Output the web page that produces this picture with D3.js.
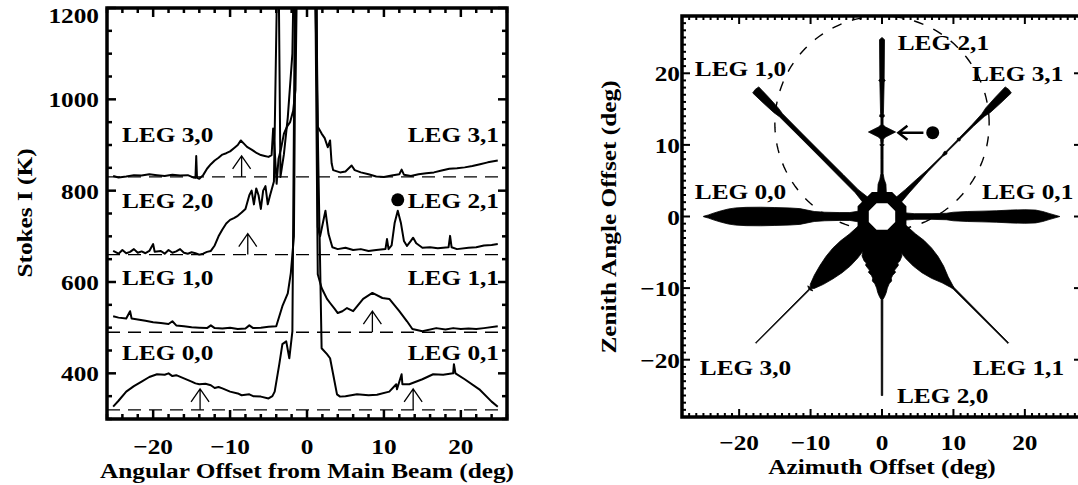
<!DOCTYPE html>
<html>
<head>
<meta charset="utf-8">
<script src="https://cdn.jsdelivr.net/npm/d3@7"></script>
<style>
  body { margin: 0; background: #fff; }
  text { font-family: "Liberation Serif", "Times New Roman", serif; font-weight: bold; fill: #000; }
</style>
</head>
<body>
<svg id="chart" width="1078" height="485"></svg>
<script>
// ---------- Left panel: Stokes I scans through each leg (offset deg, K) ----------
const scanLeg3 = [[-25.2,832],[-24.5,829],[-23.5,831],[-22.5,834],[-21.5,833],[-20.5,836],[-19.5,834],[-18.5,832],[-17.5,835],[-16.5,833],[-15.5,834],[-14.8,829],[-14.5,828],[-14.4,876],[-14.3,828],[-14.0,826],[-13.5,834],[-13,848],[-12.5,858],[-12,866],[-11.5,872],[-11,879],[-10.5,882],[-10,886],[-9.5,893],[-9,900],[-8.6,910],[-8.2,903],[-7.8,896],[-7.2,890],[-6.5,882],[-6,878],[-5.5,876],[-5,874],[-4.6,878],[-4.4,936],[-4.2,890],[-3.95,815],[-3.7,870],[-3.4,890],[-3.0,925],[-2.6,940],[-2.2,950],[-1.8,975],[-1.5,1020],[-1.2,1400],[0,6000],[1.1,1400],[1.4,940],[1.9,925],[2.3,915],[2.7,895],[3.0,910],[3.2,860],[3.4,845],[4.3,840],[5,842],[5.8,855],[6.2,845],[7,840],[8,836],[9,831],[10,830],[11,833],[12,836],[12.3,846],[12.6,835],[13.5,832],[14.5,836],[15.5,838],[16.5,840],[17.5,844],[18.5,848],[19.5,849],[20.5,851],[21.5,854],[22.5,858],[23.5,862],[24.8,866]];
const scanLeg2 = [[-25.2,668],[-24.5,662],[-24,670],[-23.5,663],[-23,666],[-22.5,672],[-22,664],[-21.5,667],[-21,663],[-20.5,668],[-20,683],[-19.8,666],[-19,668],[-18.5,662],[-18,670],[-17.5,664],[-17,667],[-16.5,672],[-16,664],[-15.5,662],[-15,665],[-14.5,663],[-14,660],[-13.5,662],[-13,666],[-12.5,668],[-12,680],[-11.5,700],[-11,715],[-10.5,728],[-10,736],[-9.5,740],[-9,745],[-8.5,752],[-8,760],[-7.5,790],[-7.2,800],[-6.9,770],[-6.6,805],[-6.3,790],[-6.0,760],[-5.7,800],[-5.4,810],[-5.1,770],[-4.8,790],[-4.3,820],[-3.75,1400],[-3.45,830],[-3.0,880],[-2.5,960],[-1.9,1100],[-1.6,1400],[-0.2,6000],[1.2,1400],[1.4,720],[1.7,700],[2.2,740],[2.4,756],[2.6,730],[2.8,705],[3.3,676],[4,672],[5,675],[6,670],[7,672],[8,668],[9,670],[10.2,672],[10.4,694],[10.6,672],[11,680],[11.4,730],[11.8,756],[12.2,730],[12.6,690],[13,679],[13.5,690],[13.8,697],[14.2,685],[15,675],[16,676],[17,674],[18.4,676],[18.6,701],[18.8,676],[19.5,672],[21,675],[22,676],[23,680],[24,681],[24.8,683]];
const scanLeg1 = [[-25.2,525],[-24.5,522],[-23.5,520],[-23,536],[-22.8,520],[-22,518],[-21,515],[-20,512],[-19,510],[-18,508],[-17.5,514],[-17,505],[-16,503],[-15,501],[-14,500],[-13,499],[-12.5,505],[-12,499],[-11,498],[-10,500],[-9,497],[-8,498],[-7.5,505],[-7,499],[-6,500],[-5,502],[-4,503],[-3.6,525],[-3.2,547],[-2.5,575],[-2.1,620],[-1.7,700],[-1.4,1400],[0,6000],[1.0,1400],[1.4,617],[1.9,587],[2.6,563],[3.0,554],[3.6,541],[4.0,532],[4.6,536],[5.2,543],[6.0,536],[7.3,563],[8.5,576],[9.8,565],[10.7,563],[12.0,536],[13.0,514],[13.7,497],[15.0,492],[16.8,499],[18,496],[19,499],[20,497],[21,498],[22,497],[23,499],[24.8,503]];
const scanLeg0 = [[-25.2,327],[-24.5,340],[-23.5,360],[-22.5,372],[-21.5,382],[-20.5,392],[-19.5,398],[-18.5,397],[-18,400],[-17.5,394],[-17,396],[-16,389],[-15,382],[-14.5,378],[-14,376],[-13.2,377],[-12.5,374],[-12,368],[-11.5,370],[-11,367],[-10,360],[-9,356],[-8.5,352],[-7.5,354],[-7,350],[-6,349],[-5,345],[-4.5,350],[-4.2,360],[-3.6,420],[-3.2,464],[-2.7,470],[-2.3,433],[-1.9,492],[-1.5,1400],[0,6000],[0.9,1400],[1.9,455],[2.6,442],[3.0,433],[3.4,398],[3.9,354],[4.3,349],[5,350],[6.5,354],[8,352],[9.1,353],[10.7,360],[11.6,376],[11.7,365],[12.3,398],[12.4,376],[13.3,376],[15,387],[16.4,398],[17.7,397],[19,400],[19.1,420],[19.3,400],[20.5,387],[22.4,365],[24,338],[24.8,327]];
const scanSeries = [scanLeg0, scanLeg1, scanLeg2, scanLeg3];
const scanBaselines = [320, 490, 660, 830];
const scanNamesLeft = ["LEG 0,0", "LEG 1,0", "LEG 2,0", "LEG 3,0"];
const scanNamesRight = ["LEG 0,1", "LEG 1,1", "LEG 2,1", "LEG 3,1"];
// sidelobe markers: offset (deg) and the baseline they rise from (K)
const lobeOffsets = [-13.9, 13.8, 8.5, -7.7, -8.5];
const lobeBases = [320, 320, 490, 660, 830];
const markDot = [11.8, 780];
const leftXTicks = [-20, -10, 0, 10, 20];
const leftYTicks = [400, 600, 800, 1000, 1200];

// ---------- Right panel: leg widths along each spoke (radius deg, half-width deg) ----------
const legAngles = [0, 45, 90, 135, 180, 225, 270, 315];
const legNames = ["LEG 0,1", "LEG 3,1", "LEG 2,1", "LEG 1,0", "LEG 0,0", "LEG 3,0", "LEG 2,0", "LEG 1,1"];
const profLeg01 = [[3.3,0.5],[4.5,0.4],[7,0.4],[9,0.45],[10,0.6],[12,0.7],[14,0.75],[16,0.8],[18,0.9],[20,0.95],[21.5,0.9],[22.5,0.7],[23.5,0.4],[24.9,0]];
const profLeg31 = [[3.3,0.5],[5,0.35],[7,0.25],[9,0.12],[12,0.08],[12.6,0.25],[12.8,0.08],[15,0.1],[15.2,0.25],[15.4,0.12],[18,0.15],[20,0.25],[21,0.45],[23,0.55],[25,0.6],[25.1,0]];
const profLeg21 = [[3.3,0.6],[4.5,0.55],[5.2,0.3],[6,0.15],[8,0.15],[9.8,0.15],[10,0.3],[10.2,0.15],[10.8,0.2],[11.1,0.5],[11.8,1.9],[12.5,0.5],[12.8,0.15],[13.8,0.15],[14,0.35],[14.4,0.2],[18.8,0.3],[19,0.45],[19.2,0.3],[24.7,0.35],[25,0]];
const profLeg10 = [[3.3,0.5],[5,0.3],[8,0.3],[12,0.28],[16,0.28],[20,0.3],[21,0.45],[23,0.55],[25,0.6],[25.1,0]];
const profLeg00 = [[3.3,0.75],[4.5,0.55],[6,0.55],[8,0.6],[9.5,0.7],[10.5,0.9],[11.5,1.1],[13,1.2],[15,1.25],[17,1.3],[19,1.28],[20.5,1.2],[21.5,1.05],[22.5,0.8],[23.5,0.5],[24.3,0.22],[25,0.03]];
const profLeg30 = [[3.3,1.4],[5,1.5],[6.5,1.7],[8,1.75],[9.5,1.6],[11,1.3],[12.5,0.9],[13.8,0.4],[14.1,0.1],[14.2,0.5],[14.4,0.08],[25,0.05]];
const profLeg20 = [[3.3,2.3],[4.5,2.6],[5.5,2.8],[6.2,2.5],[6.5,2.2],[6.8,2.3],[7.2,2.0],[7.5,1.75],[7.8,1.9],[8.2,1.5],[8.6,1.3],[9,1.35],[9.4,1.0],[10,0.75],[10.6,0.6],[11.2,0.35],[11.6,0.12],[25,0.1]];
const profLeg11 = [[3.3,1.5],[5,1.6],[6.5,1.8],[8,1.8],[9.5,1.6],[11,1.2],[12.5,0.6],[13.8,0.2],[14.2,0.12],[25,0.07]];
const legProfiles = [profLeg01, profLeg31, profLeg21, profLeg10, profLeg00, profLeg30, profLeg20, profLeg11];
const hubRadii = [3.7, 2.0];            // outer and inner radius of the central ring (deg)
const refCircle = { az: 0, zen: 13, r: 15 };
const moonMark = [7.1, 11.7];          // filled marker (deg)
const moonArrow = [[5.8, 11.7], [2.3, 11.7]];
const rightTicks = [-20, -10, 0, 10, 20];

// ---------- drawing ----------
const svg = d3.select("#chart");
const SX = 1.15;          // horizontal stretch of the bold serif lettering
const FS = 22;

function label(g, x, y, str, anchor, rot) {
  g.append("text")
    .attr("transform", `translate(${x},${y})` + (rot ? ` rotate(${rot})` : "") + ` scale(${SX},1)`)
    .attr("text-anchor", anchor || "start")
    .style("font-size", FS + "px")
    .text(str);
}
const fmt = d3.format("d");

// ---- left panel ----
const xL = d3.scaleLinear().domain([-26, 26]).range([107, 507]);
const yL = d3.scaleLinear().domain([300, 1200]).range([419, 8]);
const L = svg.append("g");
L.append("clipPath").attr("id", "clipL").append("rect")
  .attr("x", 107).attr("y", 8).attr("width", 400).attr("height", 411);

// baselines
L.selectAll("line.base").data(scanBaselines).join("line")
  .attr("x1", xL(-26)).attr("x2", xL(26))
  .attr("y1", d => yL(d)).attr("y2", d => yL(d))
  .attr("stroke", "#000").attr("stroke-width", 1.3).attr("stroke-dasharray", "13,8");

const lineL = d3.line().x(d => xL(d[0])).y(d => yL(d[1]));
L.append("g").attr("clip-path", "url(#clipL)")
  .selectAll("path").data(scanSeries).join("path")
  .attr("d", lineL).attr("fill", "none").attr("stroke", "#000")
  .attr("stroke-width", 2).attr("stroke-linejoin", "round");

// sidelobe markers
lobeOffsets.forEach((x, i) => {
  const px = xL(x), b = yL(lobeBases[i]), tip = yL(lobeBases[i] + 46);
  L.append("path")
    .attr("d", `M${px},${b}L${px},${tip}M${px - 9},${tip + 13}L${px},${tip}L${px + 9},${tip + 13}`)
    .attr("fill", "none").attr("stroke", "#000").attr("stroke-width", 1.3);
});
L.append("circle").attr("cx", xL(markDot[0])).attr("cy", yL(markDot[1])).attr("r", 6.5).attr("fill", "#000");

// leg names
const leftLabelBase = [360, 285, 208, 142];
scanNamesLeft.forEach((n, i) => label(L, 122, leftLabelBase[i], n, "start"));
scanNamesRight.forEach((n, i) => label(L, 499, leftLabelBase[i], n, "end"));

// axes frame and ticks
function ticksY(g, scale, x0, dir, vals, len) {
  g.selectAll(null).data(vals).join("line")
    .attr("x1", x0).attr("x2", x0 + dir * len)
    .attr("y1", d => scale(d)).attr("y2", d => scale(d))
    .attr("stroke", "#000").attr("stroke-width", 2.5);
}
function ticksX(g, scale, y0, dir, vals, len) {
  g.selectAll(null).data(vals).join("line")
    .attr("y1", y0).attr("y2", y0 + dir * len)
    .attr("x1", d => scale(d)).attr("x2", d => scale(d))
    .attr("stroke", "#000").attr("stroke-width", 2.5);
}
const lMinorX = d3.range(-26, 26.01, 2).filter(v => v % 10 !== 0);
const lMinorY = d3.range(300, 1200.1, 50).filter(v => v % 200 !== 0);
ticksX(L, xL, 419, -1, leftXTicks, 9); ticksX(L, xL, 419, -1, lMinorX, 5);
ticksX(L, xL, 8, 1, leftXTicks, 9);    ticksX(L, xL, 8, 1, lMinorX, 5);
ticksY(L, yL, 107, 1, leftYTicks, 9);  ticksY(L, yL, 107, 1, lMinorY, 5);
ticksY(L, yL, 507, -1, leftYTicks, 9); ticksY(L, yL, 507, -1, lMinorY, 5);
L.append("rect").attr("x", 107).attr("y", 8).attr("width", 400).attr("height", 411)
  .attr("fill", "none").attr("stroke", "#000").attr("stroke-width", 3.5);

leftXTicks.forEach(v => label(L, xL(v), 454, fmt(v), "middle"));
leftYTicks.forEach(v => label(L, 99, Math.max(yL(v) + 8, 23), fmt(v), "end"));
label(L, 307, 478, "Angular Offset from Main Beam (deg)", "middle");
label(L, 32, 213, "Stokes I (K)", "middle", -90);

// ---- right panel ----
const xR = d3.scaleLinear().domain([-28, 28]).range([682, 1082]);
const yR = d3.scaleLinear().domain([-28, 28]).range([417, 16]);
const R = svg.append("g");
R.append("clipPath").attr("id", "clipR").append("rect")
  .attr("x", 682).attr("y", 16).attr("width", 400).attr("height", 401);
const RP = R.append("g").attr("clip-path", "url(#clipR)");

// reference circle
const circPts = d3.range(0, 361, 2).map(a => [refCircle.az + refCircle.r * Math.cos(a * Math.PI / 180),
                                               refCircle.zen + refCircle.r * Math.sin(a * Math.PI / 180)]);
RP.append("path").attr("d", d3.line().x(d => xR(d[0])).y(d => yR(d[1]))(circPts))
  .attr("fill", "none").attr("stroke", "#000").attr("stroke-width", 1.4).attr("stroke-dasharray", "10,11");

// legs
legProfiles.forEach((prof, i) => {
  const a = legAngles[i] * Math.PI / 180;
  const ux = Math.cos(a), uy = Math.sin(a), nx = -uy, ny = ux;
  const side1 = prof.map(([r, w]) => [r * ux + w * nx, r * uy + w * ny]);
  const side2 = prof.map(([r, w]) => [r * ux - w * nx, r * uy - w * ny]).reverse();
  const pts = side1.concat(side2);
  RP.append("path").attr("d", d3.line().x(d => xR(d[0])).y(d => yR(d[1]))(pts) + "Z")
    .attr("fill", "#000").attr("stroke", "#000").attr("stroke-width", 0.8).attr("stroke-linejoin", "round");
});

// central ring (octagon)
const octa = rad => d3.range(8).map(k => {
  const a = (22.5 + 45 * k) * Math.PI / 180;
  return [rad * Math.cos(a), rad * Math.sin(a)];
});
const ringPath = d3.line().x(d => xR(d[0])).y(d => yR(d[1]));
RP.append("path").attr("d", ringPath(octa(hubRadii[0])) + "Z" + ringPath(octa(hubRadii[1])) + "Z")
  .attr("fill", "#000").attr("fill-rule", "evenodd");

// marker and arrow
RP.append("circle").attr("cx", xR(moonMark[0])).attr("cy", yR(moonMark[1])).attr("r", 6.5).attr("fill", "#000");
{
  const x1 = xR(moonArrow[0][0]), x2 = xR(moonArrow[1][0]), yy = yR(moonArrow[0][1]);
  RP.append("path").attr("d", `M${x1},${yy}L${x2},${yy}M${x2 + 9},${yy - 7}L${x2},${yy}L${x2 + 9},${yy + 7}`)
    .attr("fill", "none").attr("stroke", "#000").attr("stroke-width", 2.5);
}

// leg names
const rightLabelPos = [[14.0, 2.4], [12.6, 18.9], [2.2, 23.3], [-26.2, 19.6], [-26.2, 2.4], [-25.5, -22.1], [2.1, -26.0], [12.7, -22.1]];
legNames.forEach((n, i) => label(R, xR(rightLabelPos[i][0]), yR(rightLabelPos[i][1]), n, "start"));

const rMinor = d3.range(-28, 28.01, 1).filter(v => v % 10 !== 0);
ticksX(R, xR, 417, -1, rightTicks, 8); ticksX(R, xR, 417, -1, rMinor, 4);
ticksX(R, xR, 16, 1, rightTicks, 8);   ticksX(R, xR, 16, 1, rMinor, 4);
ticksY(R, yR, 682, 1, rightTicks, 8);  ticksY(R, yR, 682, 1, rMinor, 4);
ticksY(R, yR, 1082, -1, rightTicks, 8); ticksY(R, yR, 1082, -1, rMinor, 4);
R.selectAll("line").attr("stroke-width", 2);
R.append("rect").attr("x", 682).attr("y", 16).attr("width", 400).attr("height", 401)
  .attr("fill", "none").attr("stroke", "#000").attr("stroke-width", 3.5);

rightTicks.forEach(v => label(R, xR(v), 450, fmt(v), "middle"));
rightTicks.forEach(v => label(R, 680, yR(v) + 8, fmt(v), "end"));
label(R, 882, 474, "Azimuth Offset (deg)", "middle");
label(R, 616, 217, "Zenith Angle Offset (deg)", "middle", -90);
</script>
</body>
</html>
